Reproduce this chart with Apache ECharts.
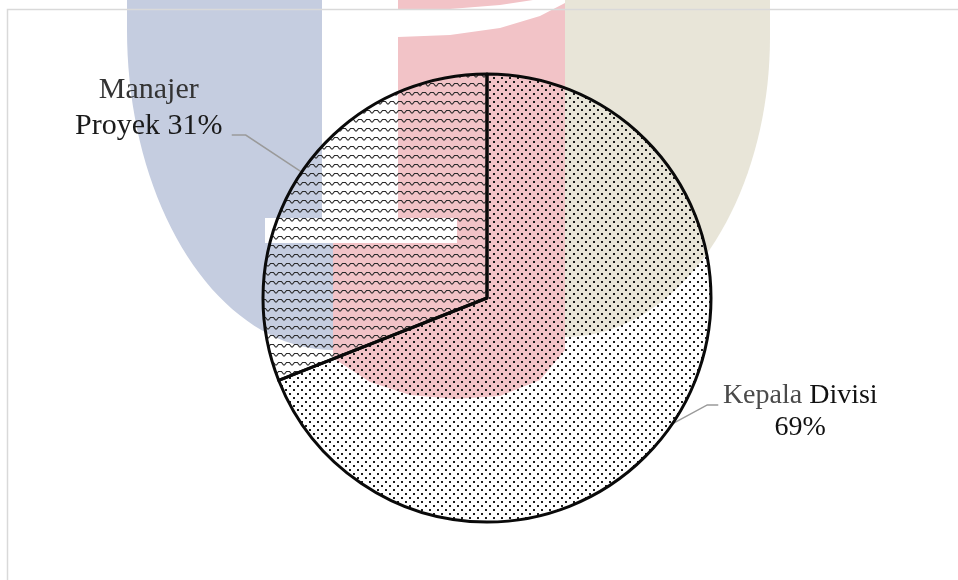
<!DOCTYPE html>
<html>
<head>
<meta charset="utf-8">
<script src="https://cdn.jsdelivr.net/npm/echarts@6/dist/echarts.min.js"></script>
<style>
  html, body { margin: 0; padding: 0; background: #fff; }
  #chart { width: 958px; height: 580px; }
</style>
</head>
<body>
<div id="chart"></div>
<script>
// data
var categories = ["Kepala Divisi", "Manajer Proyek"];
var values = [69, 31];

var pieCenter = [487, 298];
var pieRadius = 224;

// small bitmap fills, like the office patterns
function dotTile() {
  var c = document.createElement("canvas");
  c.width = 8; c.height = 8;
  var ctx = c.getContext("2d");
  ctx.fillStyle = "#1c1c1c";
  ctx.fillRect(1, 1, 2, 2);
  ctx.fillRect(5, 5, 2, 2);
  return c;
}
function waveTile() {
  var c = document.createElement("canvas");
  c.width = 8; c.height = 9;
  var ctx = c.getContext("2d");
  ctx.strokeStyle = "#2a2a2a";
  ctx.lineWidth = 1.2;
  ctx.beginPath();
  ctx.moveTo(-2, 2.5);
  ctx.lineTo(1.5, 2.5);
  ctx.lineTo(3.5, 5);
  ctx.lineTo(4.5, 5);
  ctx.lineTo(6.5, 2.5);
  ctx.lineTo(10, 2.5);
  ctx.stroke();
  return c;
}

// watermark helper
function arcPts(cx, cy, a, b, t0, t1, n) {
  var out = [];
  for (var i = 0; i <= n; i++) {
    var t = (t0 + (t1 - t0) * i / n) * Math.PI / 180;
    out.push([cx + a * Math.cos(t), cy + b * Math.sin(t)]);
  }
  return out;
}

var blueShape = [[127, -10], [322, -10], [322, 230], [333, 230]].concat(arcPts(333, 30, 206, 320, 90, 180, 40));
var beigeShape = [[565, -10], [770, -10]].concat(arcPts(565, 37, 205, 300, 0, 90, 40));
var redTop = [[398, -2], [540, -2], [533, 0], [500, 5], [450, 9], [398, 10]];
var redColumn = [[398, 37], [450, 35], [500, 28], [540, 16], [565, 3], [565, 243], [398, 243]];
var redLower = [[333, 243], [565, 243], [565, 350], [540, 380], [500, 396], [455, 399], [410, 395], [370, 382], [333, 358]];

// edge point of each slice at its middle angle (clockwise from 12 o'clock)
var total = values.reduce(function (s, v) { return s + v; }, 0);
var edgePts = [];
var acc = 0;
values.forEach(function (v) {
  var mid = (acc + v / 2) / total * 2 * Math.PI;
  edgePts.push([pieCenter[0] + pieRadius * Math.sin(mid), pieCenter[1] - pieRadius * Math.cos(mid)]);
  acc += v;
});
// label offsets from that edge point
var labelOffsets = [[128, -12], [-153, -64]];
var bendOffsets = [[[35, -19], [46, -19]], [[-56, -37], [-70, -37]]];

var chart = echarts.init(document.getElementById("chart"));

var option = {
  backgroundColor: "#ffffff",
  animation: false,
  graphic: [
    { type: "polygon", z: 0, shape: { points: blueShape }, style: { fill: "#c5cde0" } },
    { type: "polygon", z: 0, shape: { points: beigeShape }, style: { fill: "#e8e5d8" } },
    { type: "polygon", z: 0, shape: { points: redTop }, style: { fill: "#f2c3c7" } },
    { type: "polygon", z: 0, shape: { points: redColumn }, style: { fill: "#f2c3c7" } },
    { type: "polygon", z: 0, shape: { points: redLower }, style: { fill: "#f2c3c7" } },
    { type: "rect", z: 0, shape: { x: 265, y: 218, width: 192, height: 25 }, style: { fill: "#ffffff" } },
    { type: "rect", z: 1, shape: { x: 7.5, y: 9.5, width: 960, height: 600 }, style: { fill: "none", stroke: "#d9d9d9", lineWidth: 1.5 } }
  ],
  series: [
    {
      type: "pie",
      z: 5,
      center: pieCenter,
      radius: pieRadius,
      startAngle: 90,
      clockwise: true,
      avoidLabelOverlap: false,
      silent: true,
      itemStyle: { borderColor: "#0a0a0a", borderWidth: 3 },
      data: [
        { name: categories[0], value: values[0], itemStyle: { color: { image: dotTile(), repeat: "repeat" } } },
        { name: categories[1], value: values[1], itemStyle: { color: { image: waveTile(), repeat: "repeat" } } }
      ],
      label: {
        show: true,
        position: "outside",
        fontFamily: "Liberation Serif",
        formatter: function (p) {
          var words = p.name.split(" ");
          if (p.dataIndex === 0) {
            return "{g|" + words[0] + " }{b|" + words[1] + "}\n{b|" + Math.round(p.percent) + "%}";
          }
          return "{m|" + words[0] + "}\n{n|" + words[1] + " " + Math.round(p.percent) + "%}";
        },
        rich: {
          g: { fontFamily: "Liberation Serif", fontSize: 28, color: "#4a4a4a", lineHeight: 32, align: "center" },
          b: { fontFamily: "Liberation Serif", fontSize: 28, color: "#111111", lineHeight: 32, align: "center" },
          m: { fontFamily: "Liberation Serif", fontSize: 30, color: "#333333", lineHeight: 36, align: "center" },
          n: { fontFamily: "Liberation Serif", fontSize: 30, color: "#1a1a1a", lineHeight: 36, align: "center" }
        }
      },
      labelLine: { show: true, length: 10, length2: 10, lineStyle: { color: "#9a9a9a", width: 1.5 } },
      labelLayout: function (params) {
        var i = params.dataIndex;
        var e = edgePts[i];
        var o = labelOffsets[i];
        var b = bendOffsets[i];
        return {
          x: e[0] + o[0],
          y: e[1] + o[1],
          align: "center",
          verticalAlign: "middle",
          labelLinePoints: [
            [e[0], e[1]],
            [e[0] + b[0][0], e[1] + b[0][1]],
            [e[0] + b[1][0], e[1] + b[1][1]]
          ]
        };
      }
    }
  ]
};

chart.setOption(option);
</script>
</body>
</html>
